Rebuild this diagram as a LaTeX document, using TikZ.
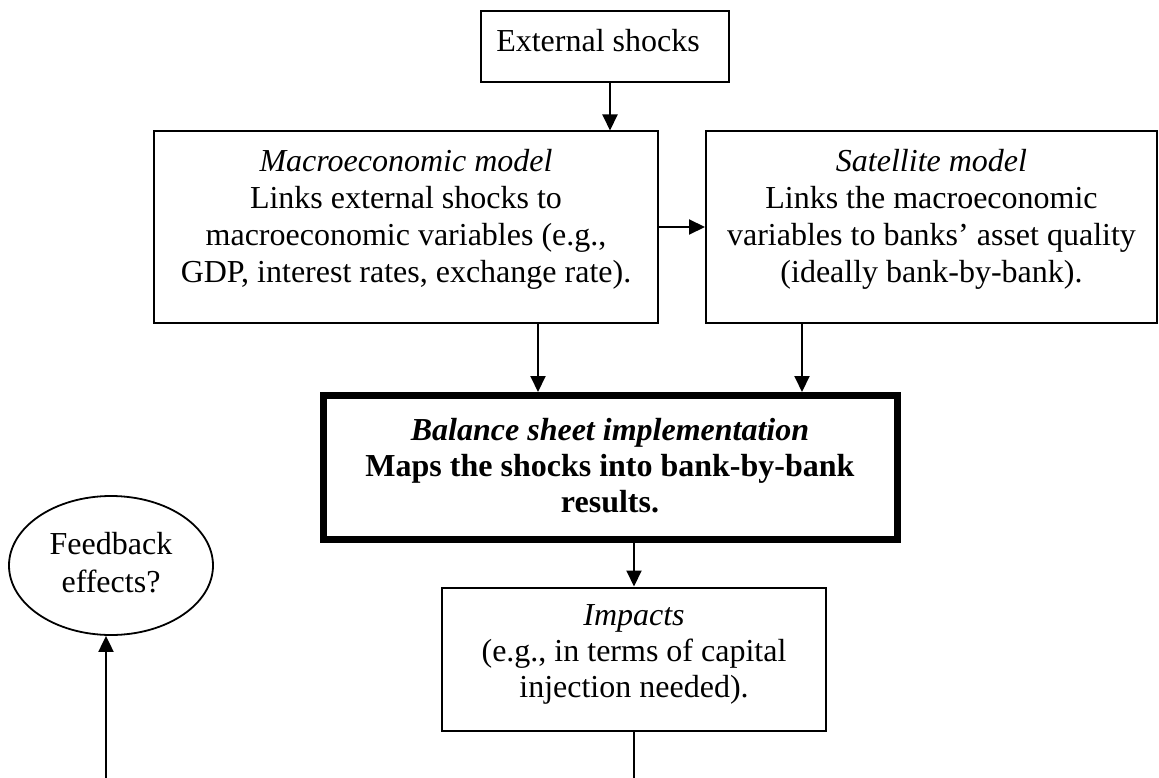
\documentclass[tikz,border=0pt]{standalone}
\usepackage{fontspec}
\setmainfont{Liberation Serif}
\usetikzlibrary{arrows.meta,shapes.geometric}
\newcommand\mytop[1]{\rule{0pt}{#1}}
\newcommand\mybot[1]{\rule[-#1]{0pt}{#1}}
\begin{document}
\begin{tikzpicture}[x=1pt,y=-1pt,
  box/.style={draw, line width=2pt, inner sep=0pt, align=center, font=\fontsize{32}{37.3}\selectfont},
  arr/.style={line width=2pt, -{Triangle[length=16pt,width=15pt]}},
  ln/.style={line width=2pt}]
\useasboundingbox (0,0) rectangle (1159,778);
% boxes
\node[box, minimum width=248pt, minimum height=71.5pt, align=none] (ext) at (605,46.75)
  {\mytop{26pt}External shocks\hspace{14pt}\mybot{15.5pt}};
\node[box, minimum width=504pt, minimum height=191pt] (macro) at (406,227)
  {\mytop{25pt}\textit{Macroeconomic model}\\Links external shocks to\\macroeconomic variables (e.g.,\\GDP, interest rates, exchange rate).\mybot{25pt}};
\node[box, minimum width=451pt, minimum height=191pt] (sat) at (931.5,227)
  {\mytop{25pt}\textit{Satellite model}\\Links the macroeconomic\\variables to banks’ asset quality\\(ideally bank-by-bank).\mybot{25pt}};
\node[box, line width=7pt, minimum width=574pt, minimum height=143.5pt, font=\fontsize{32}{36}\selectfont\bfseries] (bal) at (610,467.25)
  {\mytop{30pt}\textit{Balance sheet implementation}\\Maps the shocks into bank-by-bank\\results.\mybot{12pt}};
\node[box, minimum width=384pt, minimum height=143.5pt, font=\fontsize{32}{36}\selectfont] (imp) at (634,659.25)
  {\mytop{26pt}\textit{Impacts}\\(e.g., in terms of capital\\injection needed).\mybot{22.5pt}};
\node[box, ellipse, line width=1.8pt, minimum width=204pt, minimum height=139pt, font=\fontsize{32}{38}\selectfont] (fb) at (111,565.5)
  {\mytop{27pt}Feedback\\effects?\mybot{12pt}};
% helper coordinates
\coordinate (c610) at (610,0);
\coordinate (c538) at (538,0);
\coordinate (c802) at (802,0);
\coordinate (c634) at (634,0);
\coordinate (impBot) at (634,778);
\coordinate (fbBot) at (106,778);
% connectors
\draw[arr] (ext.south -| c610) -- (macro.north -| c610);
\draw[arr] (macro.east) -- (sat.west);
\draw[arr] (macro.south -| c538) -- (bal.north -| c538);
\draw[arr] (sat.south -| c802) -- (bal.north -| c802);
\draw[arr] (bal.south -| c634) -- (imp.north -| c634);
\draw[ln] (imp.south) -- (impBot);
\draw[arr] (fbBot) -- (fb.south -| fbBot);
\end{tikzpicture}
\end{document}
